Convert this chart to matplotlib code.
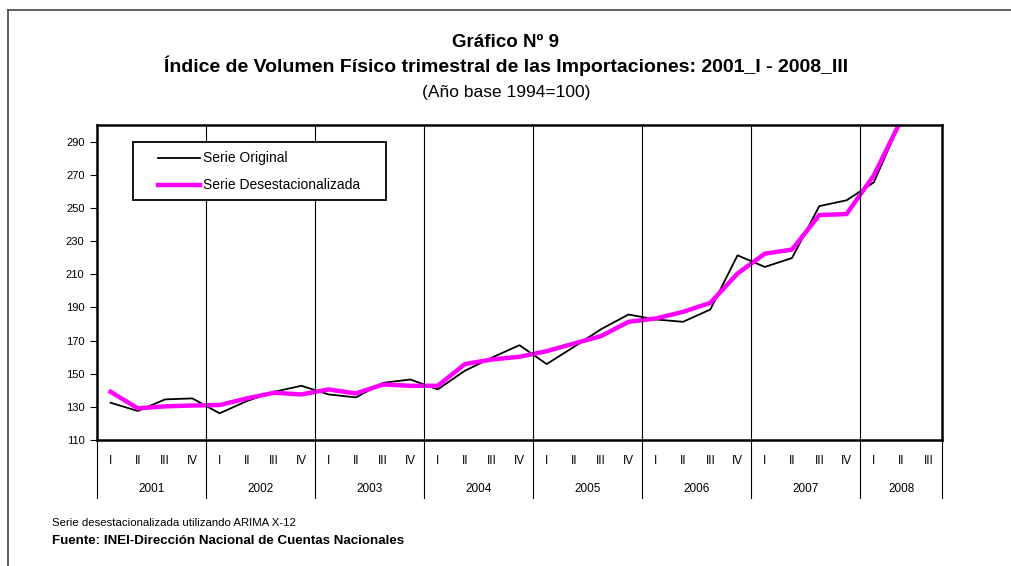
import matplotlib
matplotlib.use("Agg")
import matplotlib.pyplot as plt
import matplotlib.patches as mpatches
import numpy as np

plt.rcParams['font.family'] = ['Liberation Sans', 'DejaVu Sans']

# datos trimestrales 2001_I - 2008_III (2008_III fuera del rango visible)
trimestres = ['I', 'II', 'III', 'IV'] * 7 + ['I', 'II', 'III']
anios = ['2001', '2002', '2003', '2004', '2005', '2006', '2007', '2008']
serie_original = [132.5, 127.5, 134.5, 135.1, 126.1, 133.5, 139.1, 142.7,
                  137.5, 135.7, 144.5, 146.5, 140.5, 151.8, 159.8, 167.2,
                  155.8, 166.2, 176.9, 185.7, 182.7, 181.3, 188.7, 221.4,
                  214.4, 219.8, 251.1, 254.6, 265.4, 303.0, np.nan]
serie_desest = [139.1, 129.1, 130.3, 130.8, 131.1, 135.1, 138.5, 137.5,
                140.5, 138.1, 143.5, 142.7, 142.7, 155.8, 158.6, 160.2,
                163.6, 168.2, 172.7, 181.3, 183.3, 187.3, 192.7, 210.4,
                222.4, 224.9, 245.7, 246.3, 269.6, 303.0, np.nan]
yticks = list(range(110, 300, 20))

fig = plt.figure(figsize=(10.12, 5.66), dpi=100)
ax = fig.add_axes([0.0958, 0.2226, 0.835, 0.5565])

x = np.arange(len(trimestres))
ax.plot(x, serie_original, color='black', lw=1.3)
ax.plot(x, serie_desest, color='#FF00FF', lw=3.2)

ax.set_xlim(-0.5, len(trimestres) - 0.5)
ax.set_ylim(110, 300)
ax.set_yticks(yticks)
ax.tick_params(axis='y', direction='out', length=5, width=0.8, labelsize=8, pad=4)
ax.set_xticks([])
for s in ax.spines.values():
    s.set_linewidth(1.8)

# separadores de año (dentro y debajo del grafico)
trans = ax.get_xaxis_transform()
for k in range(len(anios) + 1):
    xs = -0.5 + 4 * k if k < len(anios) else len(trimestres) - 0.5
    if 0 < k < len(anios):
        ax.axvline(xs, color='black', lw=0.8)
    ax.plot([xs, xs], [0, -0.185], color='black', lw=0.8, transform=trans, clip_on=False)

for i, q in enumerate(trimestres):
    ax.text(i, -0.067, q, transform=trans, ha='center', va='center', fontsize=8.5)
for k, a in enumerate(anios):
    n = min(4, len(trimestres) - 4 * k)
    ax.text(4 * k + (n - 1) / 2, -0.157, a, transform=trans, ha='center', va='center', fontsize=8.5)

# leyenda
ax.add_patch(mpatches.Rectangle((0.0426, 0.762), 0.3, 0.184, transform=ax.transAxes,
                                facecolor='white', edgecolor='black', lw=1.3, zorder=5))
ax.plot([0.0722, 0.1219], [0.895, 0.895], color='black', lw=1.3, transform=ax.transAxes, zorder=6)
ax.plot([0.0722, 0.1219], [0.8095, 0.8095], color='#FF00FF', lw=3.2, transform=ax.transAxes, zorder=6)
ax.text(0.1254, 0.895, 'Serie Original', transform=ax.transAxes, va='center', fontsize=10, zorder=6)
ax.text(0.1254, 0.8095, 'Serie Desestacionalizada', transform=ax.transAxes, va='center', fontsize=10, zorder=6)

fig.text(0.5, 0.925, 'Gráfico Nº 9', ha='center', va='center', fontsize=13.5, fontweight='bold')
fig.text(0.5, 0.883, 'Índice de Volumen Físico trimestral de las Importaciones: 2001_I - 2008_III',
         ha='center', va='center', fontsize=14, fontweight='bold')
fig.text(0.5, 0.837, '(Año base 1994=100)', ha='center', va='center', fontsize=12.5)

fig.text(0.051, 0.076, 'Serie desestacionalizada utilizando ARIMA X-12', ha='left', va='center', fontsize=8.2)
fig.text(0.051, 0.044, 'Fuente: INEI-Dirección Nacional de Cuentas Nacionales', ha='left', va='center',
         fontsize=9.6, fontweight='bold')

# marco exterior
fig.add_artist(plt.Line2D([0.008, 0.008], [0, 0.982], color='#444444', lw=1.2))
fig.add_artist(plt.Line2D([0.008, 1], [0.982, 0.982], color='#444444', lw=1.2))

fig.savefig('out.png', dpi=100)
